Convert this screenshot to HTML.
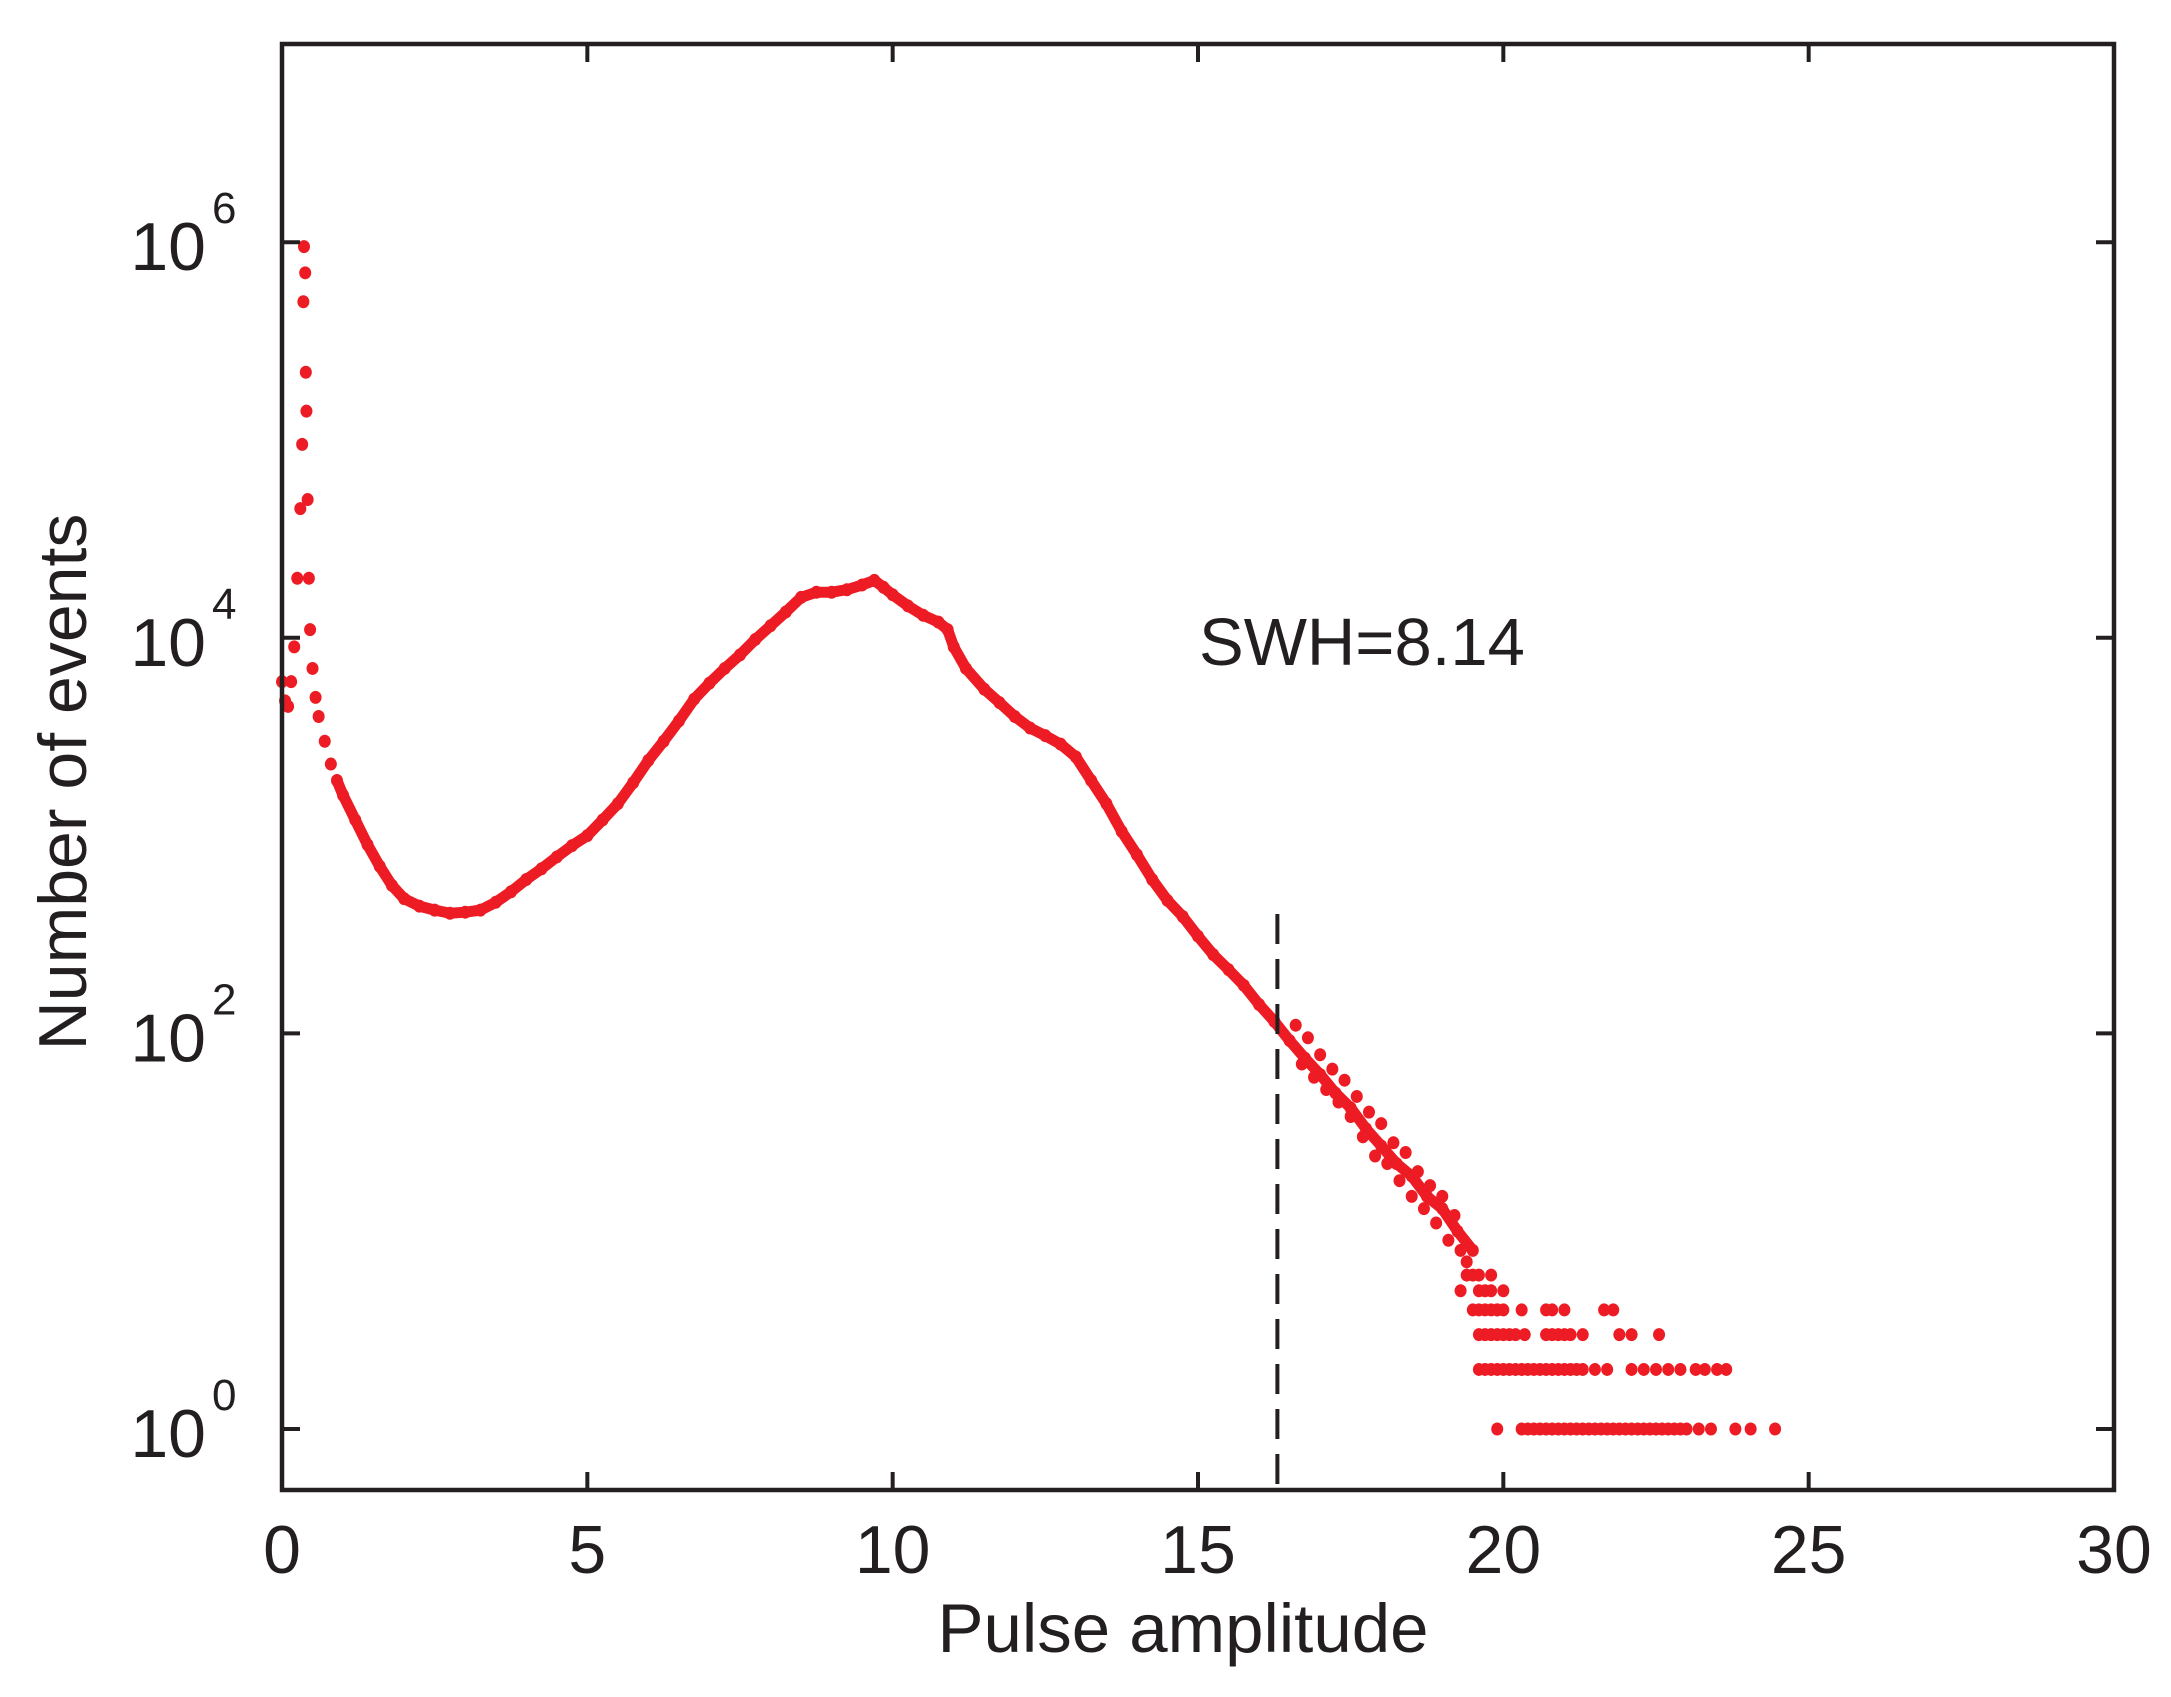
<!DOCTYPE html>
<html><head><meta charset="utf-8"><title>Pulse amplitude histogram</title>
<style>
html,body{margin:0;padding:0;background:#fff;}
svg{display:block;}
text{font-family:"Liberation Sans",sans-serif;fill:#231f20;}
</style></head>
<body>
<svg id="chart" width="2171" height="1697" viewBox="0 0 2171 1697" xmlns="http://www.w3.org/2000/svg">
<rect width="2171" height="1697" fill="#fff"/>
<g id="marks"></g>
<g id="axes"></g>
<text x="1199" y="665" font-size="67">SWH=8.14</text>
<text x="1183" y="1652" font-size="69" text-anchor="middle">Pulse amplitude</text>
<text transform="translate(86,782) rotate(-90)" font-size="68" text-anchor="middle">Number of events</text>
</svg>
<script>
const xTicks = [0,5,10,15,20,25,30];
const yTickExps = [0,2,4,6];
const swhX = 16.3;
const mainX = [0.0,0.05,0.1,0.15,0.2,0.25,0.3,0.33,0.35,0.36,0.38,0.39,0.4,0.42,0.44,0.46,0.5,0.55,0.6,0.7,0.8,0.9,1.0,1.2,1.4,1.6,1.8,2.0,2.25,2.5,2.75,3.0,3.25,3.5,3.75,4.0,4.25,4.5,4.75,5.0,5.25,5.5,5.75,6.0,6.25,6.5,6.75,7.0,7.25,7.5,7.75,8.0,8.25,8.5,8.75,9.0,9.25,9.5,9.7,9.85,10.0,10.25,10.5,10.75,10.9,11.0,11.2,11.5,11.75,12.0,12.25,12.5,12.75,13.0,13.25,13.5,13.75,14.0,14.25,14.5,14.75,15.0,15.25,15.5,15.75,16.0,16.25,16.5,16.75,17.0,17.25,17.5,17.75,18.0,18.25,18.5,18.75,19.0,19.25,19.5];
const mainY = [6000,4800,4500,6000,9000,20000,45000,95000,500000,950000,700000,220000,140000,50000,20000,11000,7000,5000,4000,3000,2300,1900,1600,1200,900,700,560,480,440,420,405,410,420,460,520,600,680,780,890,1000,1200,1450,1850,2400,3000,3800,4900,5900,7000,8200,9800,11500,13500,16000,17000,17000,17500,18500,19500,18000,16500,14500,13000,12000,11000,9000,7000,5500,4700,4000,3500,3200,2900,2500,1900,1450,1050,800,600,470,390,310,250,210,175,140,115,92,75,62,50,42,33,27,22,19,15,13,10,8];
const scatterX = [16.6,16.7,16.8,16.9,17.0,17.1,17.2,17.3,17.4,17.5,17.6,17.7,17.8,17.9,18.0,18.1,18.2,18.3,18.4,18.5,18.6,18.7,18.8,18.9,19.0,19.1,19.2,19.3,19.4,19.5,19.6,19.7,19.8,19.9,19.3,19.4,19.6,19.8,20.0];
const scatterY = [110,70,95,60,78,52,66,45,58,38,48,30,40,24,35,22,28,18,25,15,20,13,17,11,15,9,12,8,7,6,6,5,5,4,5,6,5,6,5];
const row1X = [19.9,20.3,20.4,20.5,20.6,20.7,20.8,20.9,21.0,21.1,21.2,21.3,21.4,21.5,21.6,21.7,21.8,21.9,22.0,22.1,22.2,22.3,22.4,22.5,22.6,22.7,22.8,22.9,23.0,23.2,23.4,23.8,24.05,24.45];
const row2X = [19.6,19.7,19.8,19.9,20.0,20.1,20.2,20.3,20.4,20.5,20.6,20.7,20.8,20.9,21.0,21.1,21.2,21.3,21.5,21.7,22.1,22.3,22.5,22.7,22.9,23.15,23.3,23.5,23.65];
const row3X = [19.6,19.7,19.8,19.9,20.0,20.1,20.2,20.35,20.7,20.8,20.9,21.0,21.1,21.3,21.9,22.1,22.55];
const row4X = [19.5,19.6,19.7,19.8,19.9,20.0,20.3,20.7,20.8,21.0,21.65,21.8];
const rowCounts = [1,2,3,4];

const L=282, R=2114, T=44, B=1490;
const xScale = v => L + (v - 0) * (R - L) / 30;
const yScale = c => 1429 - 197.8 * Math.log10(c);
const NS = "http://www.w3.org/2000/svg";
const marks = document.getElementById('marks');
const axes = document.getElementById('axes');
const RED = "#ed1c24";

function mk(tag, parent){ const e=document.createElementNS(NS,tag); parent.appendChild(e); return e; }

// main continuous curve (dense region)
const pts = [];
for(let i=0;i<mainX.length;i++){ if(mainX[i]>=0.9) pts.push(xScale(mainX[i])+','+yScale(mainY[i])); }
const pl = mk('polyline', marks);
pl.setAttribute('points', pts.join(' '));
pl.setAttribute('fill','none'); pl.setAttribute('stroke',RED); pl.setAttribute('stroke-width','11'); pl.setAttribute('stroke-linejoin','round'); pl.setAttribute('stroke-linecap','round');



function dot(x,c,name){
  const d = mk('ellipse', marks);
  d.setAttribute('cx', xScale(x)); d.setAttribute('cy', yScale(c));
  d.setAttribute('rx', 6); d.setAttribute('ry', 6.5); d.setAttribute('fill', RED);
  
  
}
for(let i=0;i<mainX.length;i++) dot(mainX[i], mainY[i], 'main-point');
for(let i=0;i<scatterX.length;i++) dot(scatterX[i], scatterY[i], 'tail-point');
[row1X,row2X,row3X,row4X].forEach((row,k)=>{ row.forEach(x=>dot(x, rowCounts[k], 'count-row-point')); });

// dashed SWH line
const dl = mk('line', marks);
dl.setAttribute('x1', xScale(swhX)); dl.setAttribute('x2', xScale(swhX));
dl.setAttribute('y1', 914); dl.setAttribute('y2', B);
dl.setAttribute('stroke', '#231f20'); dl.setAttribute('stroke-width', 4); dl.setAttribute('stroke-dasharray', '30 15');



// frame
const fr = mk('rect', axes);
fr.setAttribute('x',L); fr.setAttribute('y',T); fr.setAttribute('width',R-L); fr.setAttribute('height',B-T);
fr.setAttribute('fill','none'); fr.setAttribute('stroke','#231f20'); fr.setAttribute('stroke-width',4.5);



function tline(x1,y1,x2,y2){
  const l = mk('line', axes);
  l.setAttribute('x1',x1); l.setAttribute('y1',y1); l.setAttribute('x2',x2); l.setAttribute('y2',y2);
  l.setAttribute('stroke','#231f20'); l.setAttribute('stroke-width',4);
  
  
}
xTicks.forEach(v=>{
  const x=xScale(v);
  tline(x,B,x,B-18); tline(x,T,x,T+18);
  const t = mk('text', axes);
  t.setAttribute('x',x); t.setAttribute('y',1573); t.setAttribute('font-size',68); t.setAttribute('text-anchor','middle');
  t.textContent = String(v);
  
  
});
yTickExps.forEach(e=>{
  const y=yScale(Math.pow(10,e));
  tline(L,y,L+18,y); tline(R,y,R-18,y);
  const t = mk('text', axes);
  t.setAttribute('x',206); t.setAttribute('y',y+28); t.setAttribute('font-size',68); t.setAttribute('text-anchor','end');
  t.textContent = '10';
  
  
  const s = mk('text', axes);
  s.setAttribute('x',212); s.setAttribute('y',y-19); s.setAttribute('font-size',44);
  s.textContent = String(e);
  
  
});
</script>
</body></html>
